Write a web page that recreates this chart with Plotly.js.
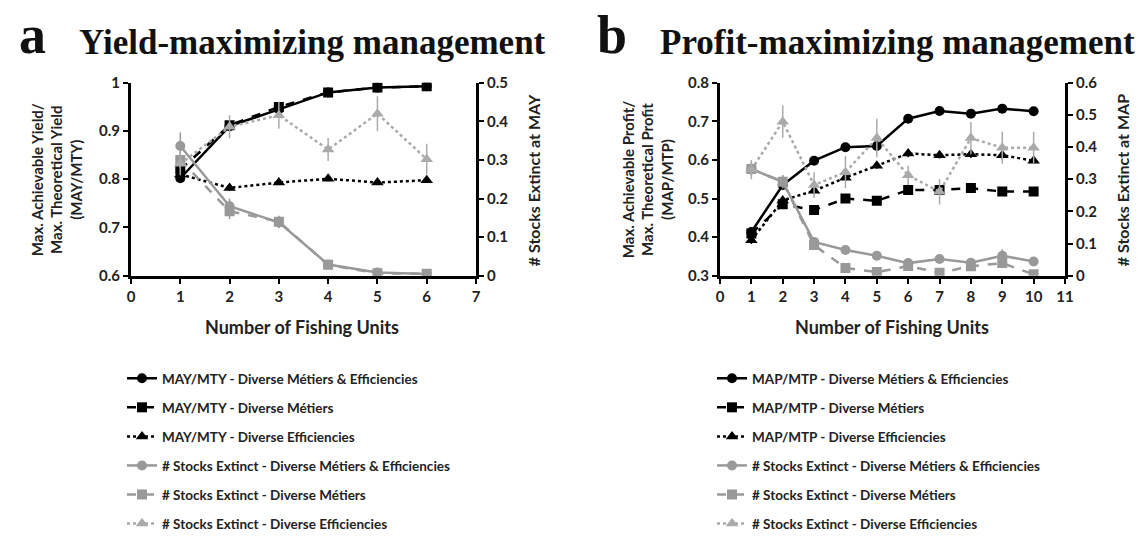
<!DOCTYPE html>
<html>
<head>
<meta charset="utf-8">
<script src="https://cdn.plot.ly/plotly-3.0.1.min.js"></script>
<style>html,body{margin:0;padding:0;background:#fff;} #chart{width:1139px;height:539px;}</style>
</head>
<body>
<div id="chart"></div>
<script>
// ---------- Panel a: yield-maximizing ----------
const unitsA = [1, 2, 3, 4, 5, 6];
const aMayBoth = [0.802, 0.910, 0.945, 0.980, 0.990, 0.993];
const aMayMet  = [0.820, 0.912, 0.950, 0.980, 0.990, 0.993];
const aMayEff  = [0.810, 0.782, 0.793, 0.801, 0.793, 0.798];
const aMayBothErr = [0.010, 0.010, 0.008, 0.004, 0.003, 0.002];
const aMayMetErr  = [0.010, 0.010, 0.008, 0.004, 0.003, 0.002];
const aMayEffErr  = [0.008, 0.006, 0.005, 0.005, 0.005, 0.005];
const aExtBoth = [0.336, 0.180, 0.138, 0.029, 0.008, 0.004];
const aExtMet  = [0.300, 0.167, 0.140, 0.028, 0.006, 0.005];
const aExtEff  = [0.290, 0.386, 0.416, 0.327, 0.420, 0.302];
const aExtBothErr = [0.035, 0.020, 0.015, 0.005, 0.004, 0.003];
const aExtMetErr  = [0.020, 0.020, 0.015, 0.005, 0.004, 0.003];
const aExtEffErr  = [0.030, 0.030, 0.035, 0.030, 0.045, 0.040];

// ---------- Panel b: profit-maximizing ----------
const unitsB = [1, 2, 3, 4, 5, 6, 7, 8, 9, 10];
const bMapBoth = [0.413, 0.535, 0.598, 0.633, 0.636, 0.707, 0.727, 0.720, 0.733, 0.726];
const bMapMet  = [0.409, 0.485, 0.470, 0.500, 0.494, 0.522, 0.522, 0.527, 0.518, 0.518];
const bMapEff  = [0.392, 0.495, 0.520, 0.554, 0.585, 0.617, 0.612, 0.615, 0.612, 0.598];
const bMapBothErr = [0.010, 0.010, 0.008, 0.008, 0.010, 0.008, 0.006, 0.006, 0.006, 0.006];
const bMapMetErr  = [0.010, 0.010, 0.008, 0.008, 0.008, 0.008, 0.006, 0.006, 0.006, 0.006];
const bMapEffErr  = [0.010, 0.010, 0.008, 0.008, 0.008, 0.010, 0.008, 0.010, 0.010, 0.008];
const bExtBoth = [0.332, 0.292, 0.105, 0.080, 0.062, 0.039, 0.052, 0.040, 0.062, 0.044];
const bExtMet  = [0.332, 0.292, 0.095, 0.024, 0.011, 0.030, 0.009, 0.029, 0.039, 0.004];
const bExtEff  = [0.330, 0.479, 0.282, 0.322, 0.428, 0.312, 0.261, 0.428, 0.398, 0.398];
const bExtBothErr = [0.020, 0.020, 0.015, 0.010, 0.010, 0.008, 0.008, 0.008, 0.020, 0.008];
const bExtMetErr  = [0.020, 0.020, 0.015, 0.008, 0.006, 0.008, 0.006, 0.008, 0.015, 0.004];
const bExtEffErr  = [0.030, 0.050, 0.040, 0.050, 0.060, 0.030, 0.040, 0.050, 0.050, 0.050];

const namesA = ["MAY/MTY - Diverse Métiers & Efficiencies", "MAY/MTY - Diverse Métiers", "MAY/MTY - Diverse Efficiencies",
  "# Stocks Extinct - Diverse Métiers & Efficiencies", "# Stocks Extinct - Diverse Métiers", "# Stocks Extinct - Diverse Efficiencies"];
const namesB = ["MAP/MTP - Diverse Métiers & Efficiencies", "MAP/MTP - Diverse Métiers", "MAP/MTP - Diverse Efficiencies",
  "# Stocks Extinct - Diverse Métiers & Efficiencies", "# Stocks Extinct - Diverse Métiers", "# Stocks Extinct - Diverse Efficiencies"];

const BLACK = "#000000", GRAY = "#999999", LGRAY = "#aaaaaa";
const styles = [
  {color: BLACK, dash: "solid", symbol: "circle", size: 10},
  {color: BLACK, dash: "dash", symbol: "square", size: 10},
  {color: BLACK, dash: "dot", symbol: "triangle-up", size: 11},
  {color: GRAY, dash: "solid", symbol: "circle", size: 10},
  {color: GRAY, dash: "dash", symbol: "square", size: 10},
  {color: LGRAY, dash: "dot", symbol: "triangle-up", size: 11}
];

function mk(x, y, err, i, names, xa, ya, leg, grp) {
  const s = styles[i];
  return {
    type: "scatter", mode: "lines+markers", x: x, y: y, name: names[i],
    xaxis: xa, yaxis: ya, legend: leg, legendgroup: grp + i,
    line: {color: s.color, dash: s.dash, width: 2.5},
    marker: {color: s.color, symbol: s.symbol, size: s.size},
    error_y: {type: "data", array: err, visible: true, color: s.color, thickness: 1.5, width: 0}
  };
}

const traces = [
  mk(unitsA, aMayBoth, aMayBothErr, 0, namesA, "x", "y", "legend", "a"),
  mk(unitsA, aMayMet, aMayMetErr, 1, namesA, "x", "y", "legend", "a"),
  mk(unitsA, aMayEff, aMayEffErr, 2, namesA, "x", "y", "legend", "a"),
  mk(unitsA, aExtBoth, aExtBothErr, 3, namesA, "x", "y2", "legend", "a"),
  mk(unitsA, aExtMet, aExtMetErr, 4, namesA, "x", "y2", "legend", "a"),
  mk(unitsA, aExtEff, aExtEffErr, 5, namesA, "x", "y2", "legend", "a"),
  mk(unitsB, bMapBoth, bMapBothErr, 0, namesB, "x2", "y3", "legend2", "b"),
  mk(unitsB, bMapMet, bMapMetErr, 1, namesB, "x2", "y3", "legend2", "b"),
  mk(unitsB, bMapEff, bMapEffErr, 2, namesB, "x2", "y3", "legend2", "b"),
  mk(unitsB, bExtBoth, bExtBothErr, 3, namesB, "x2", "y4", "legend2", "b"),
  mk(unitsB, bExtMet, bExtMetErr, 4, namesB, "x2", "y4", "legend2", "b"),
  mk(unitsB, bExtEff, bExtEffErr, 5, namesB, "x2", "y4", "legend2", "b")
];

const W = 1139, H = 539;
const FONT = "Lato, 'Open Sans', sans-serif";
const tickF = {family: FONT, size: 15, color: "#222", weight: "bold"};
const yDom = [1 - 283 / H, 1 - 85 / H];
function xax(dom, max, anchor) {
  return {domain: dom, range: [0, max], dtick: 1, tick0: 0, showgrid: false, zeroline: false,
    showline: true, linewidth: 3, linecolor: BLACK, ticks: "outside", ticklen: 5, tickwidth: 2,
    tickcolor: BLACK, tickfont: tickF, anchor: anchor, fixedrange: true};
}
function yax(range, dtick, side, anchor, overlay) {
  const o = {domain: yDom, range: range, dtick: dtick, showgrid: false, zeroline: false,
    showline: true, linewidth: 3, linecolor: BLACK, ticks: "outside", ticklen: 5, tickwidth: 2,
    tickcolor: BLACK, tickfont: tickF, side: side, anchor: anchor, fixedrange: true};
  if (overlay) o.overlaying = overlay;
  return o;
}

const ann = [];
function txt(x, y, t, size, opts) {
  ann.push(Object.assign({xref: "paper", yref: "paper", x: x / W, y: 1 - y / H, text: t, showarrow: false,
    font: {family: FONT, size: size, color: "#222", weight: "bold"}, xanchor: "center", yanchor: "middle"}, opts || {}));
}
const SERIF = "'Liberation Serif', 'Times New Roman', serif";
txt(32, 36, "a", 54, {font: {family: SERIF, size: 54, color: "#111", weight: "bold"}});
txt(312, 44, "Yield-maximizing management", 35, {font: {family: SERIF, size: 35, color: "#111", weight: "bold"}});
txt(612, 36, "b", 54, {font: {family: SERIF, size: 54, color: "#111", weight: "bold"}});
txt(897, 44, "Profit-maximizing management", 35, {font: {family: SERIF, size: 35, color: "#111", weight: "bold"}});
txt(56, 185, "Max. Achievable Yield/<br>Max. Theoretical Yield<br>(MAY/MTY)", 15, {textangle: -90});
txt(533, 185, "# Stocks Extinct at MAY", 16, {textangle: -90});
txt(302, 336, "Number of Fishing Units", 18);
txt(647, 185, "Max. Achievable Profit/<br>Max. Theoretical Profit<br>(MAP/MTP)", 15, {textangle: -90});
txt(1122, 185, "# Stocks Extinct at MAP", 16, {textangle: -90});
txt(892, 336, "Number of Fishing Units", 18);

const legFont = {family: FONT, size: 13.5, color: "#222", weight: "bold"};
const layout = {
  width: W, height: H, margin: {l: 0, r: 0, t: 0, b: 0},
  paper_bgcolor: "#fff", plot_bgcolor: "#fff",
  showlegend: true,
  xaxis: xax([131 / W, 476 / W], 7, "y"),
  yaxis: yax([0.6, 1], 0.1, "left", "x"),
  yaxis2: yax([0, 0.5], 0.1, "right", "x", "y"),
  xaxis2: xax([720 / W, 1065 / W], 11, "y3"),
  yaxis3: yax([0.3, 0.8], 0.1, "left", "x2"),
  yaxis4: yax([0, 0.6], 0.1, "right", "x2", "y3"),
  legend: {x: 122 / W, y: 1 - 373 / H, xanchor: "left", yanchor: "top", font: legFont, tracegroupgap: 8.5, bgcolor: "rgba(0,0,0,0)"},
  legend2: {x: 712 / W, y: 1 - 373 / H, xanchor: "left", yanchor: "top", font: legFont, tracegroupgap: 8.5, bgcolor: "rgba(0,0,0,0)"},
  annotations: ann
};
Plotly.newPlot("chart", traces, layout, {displayModeBar: false, staticPlot: true});
</script>
</body>
</html>
